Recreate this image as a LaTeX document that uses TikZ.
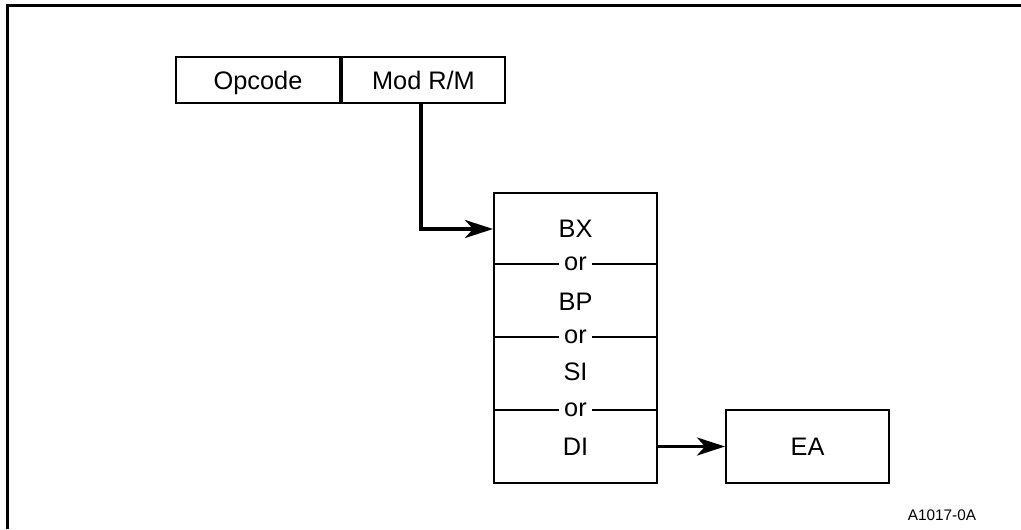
\documentclass[tikz,border=0pt]{standalone}
\usepackage{fontspec}
\setmainfont{Liberation Sans}
\usetikzlibrary{arrows.meta}
\usetikzlibrary{positioning}

\begin{document}
\begin{tikzpicture}
[x=0.75pt,y=-0.75pt,%
  boxDecorate/.style={draw,line width=1.5pt,inner sep=0pt,text depth=0pt,font=\fontsize{19}{22}\selectfont},%
  textDecorate/.style={inner sep=0pt,text depth=0pt,font=\fontsize{19}{22}\selectfont},%
  orDecorate/.style={fill=white,inner xsep=4pt,inner ysep=1pt,text depth=0pt,font=\fontsize{19}{22}\selectfont},%
  lineDecorate/.style={-{Stealth[length=21pt,width=13.5pt,inset=6pt]},line width=2.5pt}]
\useasboundingbox (0,0) rectangle (1021,529);
%% frame
\draw[line width=2.25pt] (7.5,529) -- (7.5,5.5) -- (1021,5.5);
%% instruction bytes
\node[boxDecorate,minimum width=123pt,minimum height=34.5pt] (opcode) at (258,80) {Opcode};
\node[boxDecorate,minimum width=122.25pt,minimum height=34.5pt,right=0pt of opcode] (modrm) {Mod R/M};
%% register box and its labels
\node[boxDecorate,minimum width=122.25pt,minimum height=217.5pt] (regs) at (575.5,338) {};
\foreach \nodename/\y in {BX/229, BP/302, SI/372, DI/447}
{
  \node[textDecorate] (\nodename) at (575.5,\y) {\nodename};
}
\foreach \y [count=\i] in {264,337,410}
{
  \draw[line width=1.5pt] (regs.west |- 0,\y) -- (regs.east |- 0,\y);
  \node[orDecorate] (or\i) at (575.5,\y) {or};
}
%% effective address
\node[boxDecorate,minimum width=122.25pt,minimum height=54.75pt] (ea) at (807.5,446.5) {EA};
%% connect
\draw[lineDecorate] ([xshift=-2pt]modrm.south) |- (regs.west |- BX);
\draw[lineDecorate] (regs.east |- ea.west) -- (ea.west);
%% figure number
\node[font=\fontsize{11.5}{13}\selectfont,inner sep=0pt] (fignum) at (942,515) {A1017-0A};
\end{tikzpicture}
\end{document}
